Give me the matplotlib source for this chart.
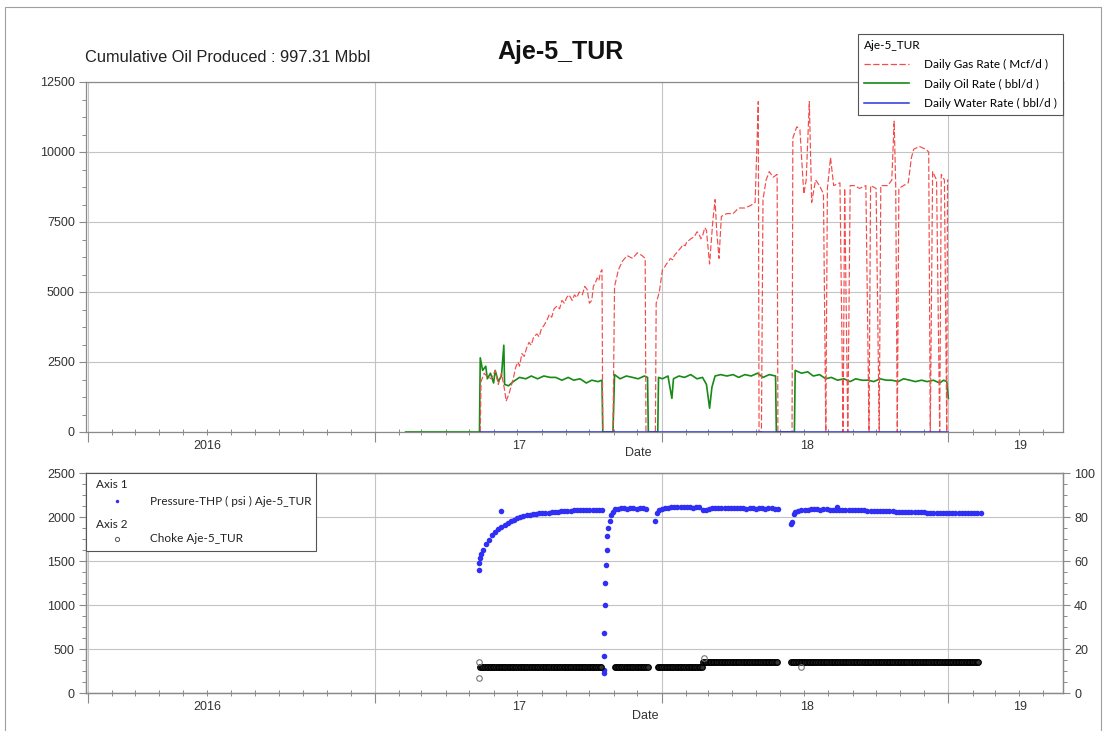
import matplotlib
matplotlib.use('Agg')
import matplotlib.pyplot as plt
import matplotlib.dates as mdates
from matplotlib.lines import Line2D
from matplotlib.patches import Rectangle
from matplotlib.ticker import MultipleLocator, NullFormatter
import pandas as pd

# ---- production rates (top panel) ----
gas_dates = ['2017-05-15', '2017-05-16', '2017-05-20', '2017-05-23', '2017-05-29', '2017-06-03', '2017-06-07',
             '2017-06-11', '2017-06-15', '2017-06-17', '2017-06-21', '2017-06-26', '2017-06-29', '2017-07-02',
             '2017-07-04', '2017-07-07', '2017-07-10', '2017-07-13', '2017-07-16', '2017-07-19', '2017-07-22',
             '2017-07-26', '2017-07-29', '2017-08-01', '2017-08-04', '2017-08-08', '2017-08-11', '2017-08-14',
             '2017-08-17', '2017-08-21', '2017-08-24', '2017-08-27', '2017-08-30', '2017-09-02', '2017-09-05',
             '2017-09-09', '2017-09-12', '2017-09-15', '2017-09-18', '2017-09-22', '2017-09-25', '2017-09-28',
             '2017-10-01', '2017-10-04', '2017-10-06', '2017-10-08', '2017-10-11', '2017-10-13', '2017-10-15',
             '2017-10-17', '2017-10-18', '2017-10-31', '2017-11-02', '2017-11-07', '2017-11-12', '2017-11-18',
             '2017-11-25', '2017-12-01', '2017-12-07', '2017-12-11', '2017-12-12', '2017-12-24', '2017-12-25',
             '2017-12-29', '2018-01-02', '2018-01-05', '2018-01-07', '2018-01-10', '2018-01-12', '2018-01-15',
             '2018-01-17', '2018-01-20', '2018-01-23', '2018-01-26', '2018-01-28', '2018-01-31', '2018-02-02',
             '2018-02-05', '2018-02-07', '2018-02-10', '2018-02-12', '2018-02-15', '2018-02-17', '2018-02-20',
             '2018-02-22', '2018-02-25', '2018-02-27', '2018-03-03', '2018-03-07', '2018-03-10', '2018-03-12',
             '2018-03-15', '2018-03-18', '2018-03-25', '2018-04-02', '2018-04-09', '2018-04-17', '2018-04-25',
             '2018-04-30', '2018-05-04', '2018-05-05', '2018-05-08', '2018-05-10', '2018-05-14', '2018-05-18',
             '2018-05-23', '2018-05-28', '2018-05-29', '2018-06-16', '2018-06-17', '2018-06-22', '2018-06-26',
             '2018-07-01', '2018-07-04', '2018-07-08', '2018-07-11', '2018-07-16', '2018-07-21', '2018-07-26',
             '2018-07-29', '2018-07-31', '2018-08-04', '2018-08-08', '2018-08-16', '2018-08-20', '2018-08-22',
             '2018-08-26', '2018-08-29', '2018-09-03', '2018-09-10', '2018-09-18', '2018-09-22', '2018-09-24',
             '2018-10-01', '2018-10-05', '2018-10-07', '2018-10-16', '2018-10-21', '2018-10-24', '2018-10-26',
             '2018-10-28', '2018-10-30', '2018-11-05', '2018-11-11', '2018-11-15', '2018-11-18', '2018-11-25',
             '2018-12-03', '2018-12-07', '2018-12-09', '2018-12-12', '2018-12-17', '2018-12-21', '2018-12-23',
             '2018-12-27', '2018-12-30', '2018-12-31', '2019-01-01']
gas_rate = [0, 1800, 2100, 2000, 1900, 2200, 1700,
            2100, 1500, 1100, 1400, 1900, 2300, 2500,
            2350, 2800, 2700, 3000, 3200, 3100, 3400,
            3500, 3400, 3700, 3800, 4000, 4200, 4100,
            4400, 4500, 4400, 4700, 4600, 4800, 4900,
            4700, 4900, 4800, 5000, 4900, 5200, 5100,
            4600, 4700, 5200, 5300, 5500, 5400, 5700,
            5800, 0, 0, 5200, 5800, 6100, 6300,
            6200, 6400, 6300, 6200, 0, 0, 4600,
            5000, 5800, 5900, 6000, 6100, 6200, 6150,
            6300, 6400, 6500, 6600, 6700, 6650, 6800,
            6850, 6900, 6950, 7000, 7150, 7100, 6900,
            7000, 7300, 7200, 6000, 7500, 8300, 7200,
            6200, 7700, 7800, 7800, 8000, 8000, 8100,
            8200, 11800, 0, 0, 8300, 9000, 9300,
            9100, 9200, 0, 0, 10500, 10900, 10800,
            8500, 9000, 11800, 8200, 9000, 8800, 8500,
            0, 8700, 9800, 8800, 8900, 0, 8700,
            0, 8800, 8800, 8700, 8800, 0, 8800,
            8700, 0, 8800, 8800, 9000, 11100, 8800,
            0, 8700, 8800, 8900, 9800, 10100, 10200,
            10100, 10000, 0, 9300, 9000, 0, 9200,
            9000, 0, 9000, 9000]

oil_dates = ['2017-02-09', '2017-05-14', '2017-05-15', '2017-05-18', '2017-05-22', '2017-05-24', '2017-05-28',
             '2017-06-01', '2017-06-03', '2017-06-07', '2017-06-11', '2017-06-14', '2017-06-15', '2017-06-20',
             '2017-06-26', '2017-07-04', '2017-07-12', '2017-07-19', '2017-07-27', '2017-08-04', '2017-08-12',
             '2017-08-19', '2017-08-27', '2017-09-04', '2017-09-11', '2017-09-19', '2017-09-27', '2017-10-04',
             '2017-10-12', '2017-10-17', '2017-10-18', '2017-10-31', '2017-11-02', '2017-11-09', '2017-11-17',
             '2017-11-25', '2017-12-02', '2017-12-10', '2017-12-14', '2017-12-15', '2017-12-27', '2017-12-28',
             '2018-01-02', '2018-01-09', '2018-01-14', '2018-01-16', '2018-01-23', '2018-01-30', '2018-02-07',
             '2018-02-15', '2018-02-22', '2018-02-27', '2018-03-03', '2018-03-06', '2018-03-10', '2018-03-17',
             '2018-03-25', '2018-04-02', '2018-04-09', '2018-04-17', '2018-04-25', '2018-05-03', '2018-05-10',
             '2018-05-18', '2018-05-26', '2018-05-27', '2018-06-19', '2018-06-20', '2018-06-28', '2018-07-06',
             '2018-07-13', '2018-07-21', '2018-07-29', '2018-08-05', '2018-08-13', '2018-08-21', '2018-08-29',
             '2018-09-05', '2018-09-13', '2018-09-21', '2018-09-28', '2018-10-06', '2018-10-14', '2018-10-21',
             '2018-10-29', '2018-11-05', '2018-11-13', '2018-11-20', '2018-11-28', '2018-12-05', '2018-12-13',
             '2018-12-21', '2018-12-26', '2018-12-30', '2019-01-01']
oil_rate = [0, 0, 2650, 2200, 2350, 1900, 2100,
            1750, 2200, 1800, 2000, 3100, 1700, 1650,
            1800, 1950, 1900, 2000, 1900, 2000, 1950,
            1950, 1850, 1950, 1850, 1900, 1750, 1850,
            1800, 1850, 0, 0, 2050, 1900, 2000,
            1950, 1900, 2000, 1950, 0, 0, 1950,
            1900, 2000, 1200, 1900, 2000, 1950, 2050,
            1900, 1950, 1700, 850, 1600, 2000, 2050,
            2000, 2050, 1950, 2050, 2000, 2100, 1950,
            2050, 2000, 0, 0, 2200, 2100, 2150,
            2000, 2050, 1900, 1950, 1850, 1900, 1800,
            1900, 1850, 1850, 1800, 1900, 1850, 1850,
            1800, 1900, 1850, 1800, 1850, 1800, 1850,
            1750, 1850, 1800, 1200]

water_dates = ['2017-05-15', '2019-01-01']
water_rate = [0, 0]

# ---- tubing head pressure (bottom panel, axis 1), 4-day readings per flowing period ----
thp_starts = ['2017-05-14', '2017-11-02', '2017-12-28', '2018-06-20']
thp_seg_a = [1400, 1630, 1690, 1740, 1790, 1830, 1860, 1890, 1910, 1935, 1955, 1970, 1985, 2000,
             2010, 2020, 2025, 2030, 2035, 2040, 2045, 2050, 2050, 2055, 2060, 2060, 2065, 2065,
             2070, 2070, 2075, 2075, 2075, 2080, 2080, 2080, 2085, 2080, 2080, 2080]
thp_seg_b = [2090, 2095, 2100, 2100, 2095, 2100, 2100, 2095, 2100, 2100, 2095]
thp_seg_c = [2080, 2090, 2100, 2105, 2110, 2110, 2115, 2110, 2110, 2115, 2110, 2105, 2110, 2110,
             2080, 2085, 2095, 2100, 2100, 2105, 2100, 2100, 2105, 2100, 2100, 2100, 2105, 2100,
             2095, 2100, 2100, 2095, 2100, 2100, 2095, 2100, 2100, 2095, 2095]
thp_seg_d = [2060, 2070, 2080, 2085, 2085, 2090, 2090, 2090, 2085, 2090,
             2090, 2085, 2085, 2080, 2080, 2080, 2080, 2080, 2075, 2075,
             2075, 2075, 2075, 2070, 2070, 2070, 2070, 2070, 2065, 2065,
             2065, 2065, 2060, 2060, 2060, 2060, 2060, 2055, 2055, 2055,
             2055, 2055, 2050, 2050, 2050, 2050, 2050, 2045, 2045, 2045,
             2045, 2045, 2045, 2040, 2040, 2045, 2040, 2040, 2040, 2040]
# start-up, shut-in build-up and one-off readings
thp_spot_dates = ['2017-05-14', '2017-05-15', '2017-05-16', '2017-06-11',
                  '2017-10-19', '2017-10-19', '2017-10-20', '2017-10-20', '2017-10-21', '2017-10-21',
                  '2017-10-22', '2017-10-23', '2017-10-24', '2017-10-25', '2017-10-27', '2017-10-29',
                  '2017-10-31', '2017-12-24', '2017-12-26', '2018-06-15', '2018-06-16', '2018-06-18',
                  '2018-08-12']
thp_spot_psi = [1480, 1530, 1580, 2070,
                230, 260, 420, 680, 1000, 1250,
                1450, 1620, 1780, 1880, 1960, 2020,
                2060, 1950, 2050, 1920, 1940, 2030,
                2115]

# ---- choke setting (bottom panel, axis 2) ----
choke_starts = ['2017-05-15', '2017-11-02', '2017-12-27', '2018-02-23', '2018-06-15']
choke_ends = ['2017-10-17', '2017-12-14', '2018-02-22', '2018-05-29', '2019-02-09']
choke_size = [12, 12, 12, 14, 14]
choke_spot_dates = ['2017-05-14', '2017-05-14', '2018-02-24', '2018-06-27']
choke_spot = [7, 14, 16, 12]

# ---- x-axis year captions ----
year_label_dates = ['2016-06-01', '2017-07-04', '2018-07-05', '2019-04-02']
year_labels = ['2016', '17', '18', '19']

W, H = 1109, 731
def fx(px):
    return px / W
def fy(py):
    return 1 - py / H

plt.rcParams['font.family'] = ['Liberation Sans', 'DejaVu Sans']
LEG_FONT = ['Lato', 'DejaVu Sans']
GRID = '#c4c4c4'
SPINE = '#8a8a8a'
GAS_C, OIL_C, WAT_C, THP_C = '#f24c4c', '#178a17', '#2a36e0', '#2f2ff5'

fig = plt.figure(figsize=(W / 100, H / 100), dpi=100)
fig.patch.set_facecolor('white')

ax = fig.add_axes([fx(86), fy(432), fx(1063) - fx(86), fy(82) - fy(432)])
bx = fig.add_axes([fx(86), fy(693), fx(1063) - fx(86), fy(473) - fy(693)])
bx2 = bx.twinx()

xmin, xmax = pd.Timestamp('2015-12-30'), pd.Timestamp('2019-05-27')

# top panel: rates
ax.plot(pd.to_datetime(oil_dates), oil_rate, color=OIL_C, lw=1.2, zorder=3)
ax.plot(pd.to_datetime(gas_dates), gas_rate, color=GAS_C, lw=0.85, ls=(0, (5, 2)), zorder=4)
ax.plot(pd.to_datetime(water_dates), water_rate, color=WAT_C, lw=1.1, zorder=5)
ax.set_ylim(0, 12500)
ax.yaxis.set_major_locator(MultipleLocator(2500))
ax.yaxis.set_minor_locator(MultipleLocator(625))

# bottom panel: pressure and choke
for start, seg in zip(thp_starts, [thp_seg_a, thp_seg_b, thp_seg_c, thp_seg_d]):
    d = pd.date_range(start, periods=len(seg), freq='4D')
    bx.plot(d, seg, ls='none', marker='o', ms=4, mew=0, color=THP_C, zorder=3)
bx.plot(pd.to_datetime(thp_spot_dates), thp_spot_psi, ls='none', marker='o', ms=4, mew=0,
        color=THP_C, zorder=3)
bx.set_ylim(0, 2500)
bx.yaxis.set_major_locator(MultipleLocator(500))
bx.yaxis.set_minor_locator(MultipleLocator(125))

for s, e, v in zip(choke_starts, choke_ends, choke_size):
    d = pd.date_range(s, e, freq='2D')
    bx2.plot(d, [v] * len(d), ls='none', marker='o', ms=4, mfc='#333333', mec='black', mew=0.9)
bx2.plot(pd.to_datetime(choke_spot_dates), choke_spot, ls='none', marker='o', ms=4, mfc='none',
         mec='#777777', mew=0.8)
bx2.set_ylim(0, 100)
bx2.yaxis.set_major_locator(MultipleLocator(20))
bx2.yaxis.set_minor_locator(MultipleLocator(5))

for a in (ax, bx, bx2):
    a.set_xlim(xmin, xmax)
    for sp in a.spines.values():
        sp.set_color(SPINE)
        sp.set_linewidth(0.9)
    a.tick_params(axis='y', which='major', direction='out', length=5, width=0.8, color=SPINE,
                  labelsize=9, labelcolor='#333333', pad=3)
    a.tick_params(axis='y', which='minor', direction='out', length=3, width=0.7, color=SPINE)

for a in (ax, bx):
    a.xaxis.set_major_locator(mdates.YearLocator())
    a.xaxis.set_minor_locator(mdates.MonthLocator())
    a.xaxis.set_major_formatter(NullFormatter())
    a.tick_params(axis='x', which='major', direction='out', length=7, width=0.8, color=SPINE)
    a.tick_params(axis='x', which='minor', direction='inout', length=5, width=0.7, color=SPINE)
    a.grid(which='major', color=GRID, lw=0.8)
    a.set_axisbelow(True)
    for d, lbl in zip(year_label_dates, year_labels):
        a.annotate(lbl, xy=(mdates.date2num(pd.Timestamp(d)), 0), xycoords=('data', 'axes fraction'),
                   xytext=(0, -14), textcoords='offset pixels', ha='center', va='center',
                   fontsize=9, color='#333333')

fig.text(fx(638), fy(453), 'Date', ha='center', va='center', fontsize=9, color='#333333')
fig.text(fx(645), fy(716), 'Date', ha='center', va='center', fontsize=9, color='#333333')

# headings
fig.text(fx(85), fy(57), 'Cumulative Oil Produced : 997.31 Mbbl', ha='left', va='center',
         fontsize=11.8, color='#222222')
fig.text(fx(560), fy(52), 'Aje-5_TUR', ha='center', va='center', fontsize=18,
         fontweight='bold', color='#111111')

# rate legend, hanging above the top-right corner of the rate panel
handles = [Line2D([], [], color=GAS_C, lw=0.9, ls=(0, (5, 2))),
           Line2D([], [], color=OIL_C, lw=1.2),
           Line2D([], [], color=WAT_C, lw=1.1)]
labels = ['Daily Gas Rate ( Mcf/d )', 'Daily Oil Rate ( bbl/d )', 'Daily Water Rate ( bbl/d )']
leg = ax.legend(handles, labels, title='Aje-5_TUR', loc='upper right',
                bbox_to_anchor=(fx(1063), fy(34)), bbox_transform=fig.transFigure, borderaxespad=0,
                fancybox=False, framealpha=1, edgecolor='#555555', prop={'family': LEG_FONT, 'size': 8.5},
                title_fontproperties={'family': LEG_FONT, 'size': 8.5}, alignment='left',
                handlelength=3.8, handletextpad=1.3, labelspacing=0.7, borderpad=0.5)
leg.get_frame().set_linewidth(0.8)
leg.set_zorder(20)

# pressure / choke legend, drawn as a boxed key in the bottom-left corner
key = Rectangle((fx(86), fy(551)), fx(316) - fx(86), fy(473) - fy(551), transform=fig.transFigure,
                facecolor='white', edgecolor='#555555', lw=0.8, zorder=10)
fig.add_artist(key)
for txt, px, py in [('Axis 1', 96, 485), ('Pressure-THP ( psi ) Aje-5_TUR', 150, 501),
                    ('Axis 2', 96, 524), ('Choke Aje-5_TUR', 150, 539)]:
    fig.text(fx(px), fy(py), txt, ha='left', va='center', fontsize=8.5, family=LEG_FONT,
             color='#222222', zorder=11)
fig.add_artist(Line2D([fx(117)], [fy(501)], transform=fig.transFigure, ls='none', marker='o', ms=2.5,
                      mew=0, color=THP_C, zorder=11))
fig.add_artist(Line2D([fx(117)], [fy(539)], transform=fig.transFigure, ls='none', marker='o', ms=3,
                      mfc='none', mec='#555555', mew=0.7, zorder=11))

# outer page frame
fig.add_artist(Line2D([fx(5), fx(5), fx(1101), fx(1101)], [fy(740), fy(7), fy(7), fy(740)],
                      transform=fig.transFigure, color='#a0a0a0', lw=0.8))

fig.savefig('out.png', dpi=100)
